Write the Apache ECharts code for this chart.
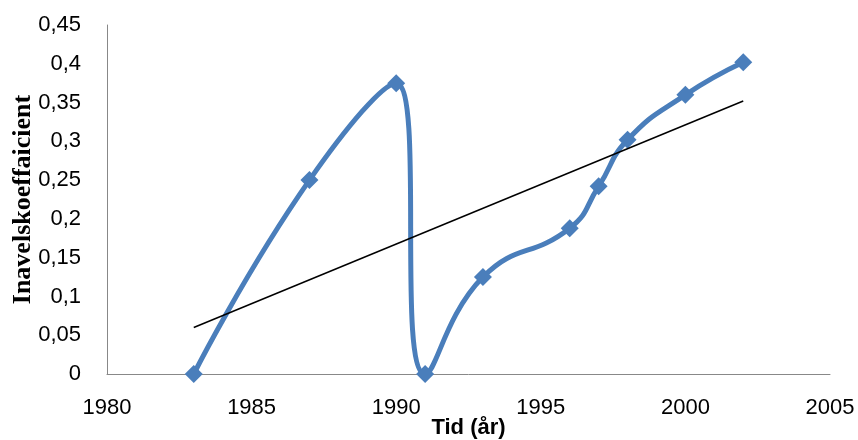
<!DOCTYPE html>
<html>
<head>
<meta charset="utf-8">
<script src="https://cdn.jsdelivr.net/npm/echarts@6/dist/echarts.min.js"></script>
<style>html,body{margin:0;padding:0;background:#fff}#c{width:858px;height:440px}</style>
</head>
<body>
<div id="c"></div>
<script>
var years = [1983, 1987, 1990, 1991, 1993, 1996, 1997, 1998, 2000, 2002];
var values = [0, 0.25, 0.375, 0, 0.125, 0.188, 0.242, 0.302, 0.36, 0.402];
var trendX = [1983, 2002];
var trendY = [0.060, 0.352];
var xTitle = 'Tid (år)';
var yTitle = 'Inavelskoeffaicient';

var chart = echarts.init(document.getElementById('c'));
function fmtY(v){ return String(Math.round(v*100)/100).replace('.', ','); }
function fmtX(v){ return String(v); }
chart.setOption({
  animation: false,
  grid: {left: 107, right: 28, top: 25, bottom: 66, containLabel: false, outerBoundsMode: 'none'},
  xAxis: {
    type: 'value', min: 1980, max: 2005, interval: 5,
    name: xTitle, nameLocation: 'middle', nameGap: 43, nameMoveOverlap: false,
    nameTextStyle: {fontFamily: 'Liberation Sans', fontWeight: 'bold', fontSize: 22, color: '#000'},
    axisLine: {show: true, lineStyle: {color: '#888', width: 1}},
    axisTick: {show: false},
    splitLine: {show: false},
    axisLabel: {fontFamily: 'Liberation Sans', fontSize: 22, color: '#000', margin: 23, formatter: fmtX}
  },
  yAxis: {
    type: 'value', min: 0, max: 0.45, interval: 0.05,
    name: yTitle, nameLocation: 'middle', nameGap: 71, nameRotate: 90, nameMoveOverlap: false,
    nameTextStyle: {fontFamily: 'Liberation Serif', fontWeight: 'bold', fontSize: 26, color: '#000'},
    axisLine: {show: true, lineStyle: {color: '#888', width: 1}},
    axisTick: {show: false},
    splitLine: {show: false},
    axisLabel: {fontFamily: 'Liberation Sans', fontSize: 22, color: '#000', margin: 26, formatter: fmtY}
  },
  series: [
    {
      type: 'line', smooth: 0.5,
      data: years.map(function(y, i){ return [y, values[i]]; }),
      symbol: 'diamond', symbolSize: 18,
      lineStyle: {color: '#4A7EBB', width: 5},
      itemStyle: {color: '#4A7EBB'},
      z: 2
    },
    {
      type: 'line',
      data: trendX.map(function(x, i){ return [x, trendY[i]]; }),
      symbol: 'none',
      lineStyle: {color: '#000', width: 1.5},
      z: 3
    }
  ]
});
</script>
</body>
</html>
